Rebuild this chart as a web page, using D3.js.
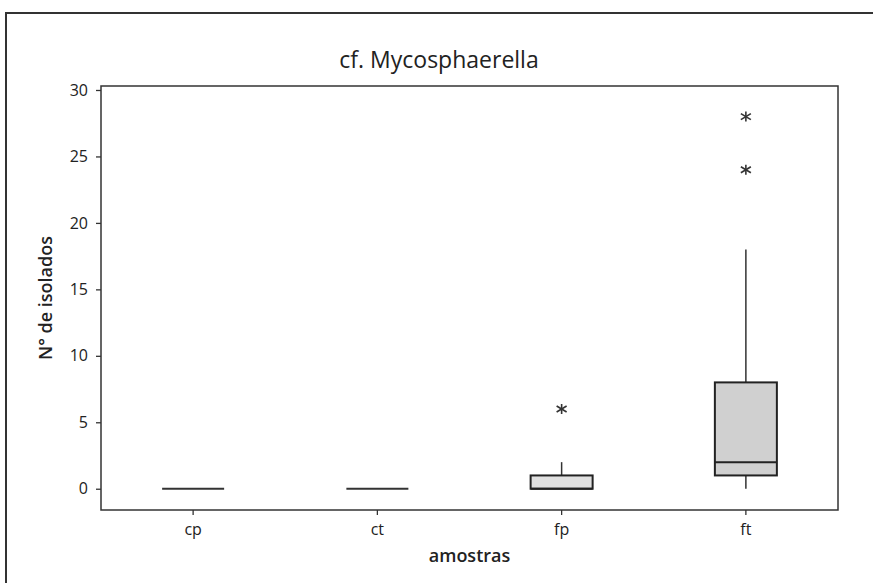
<!DOCTYPE html>
<html><head><meta charset="utf-8">
<script src="https://cdn.jsdelivr.net/npm/d3@7"></script>
<style>body{margin:0;background:#fff}svg{display:block}</style>
</head><body>
<svg id="c" width="873" height="583"></svg>
<script>
const categories = ["cp","ct","fp","ft"];
const q1 =        [0, 0, 0, 1];
const medians =   [0, 0, 0, 2];
const q3 =        [0, 0, 1, 8];
const whiskLow =  [0, 0, 0, 0];
const whiskHigh = [0, 0, 2, 18];
const outliers =  [[], [], [6], [24, 28]];
const boxFills =  ["#d4d4d4","#d4d4d4","#e0e0e0","#d0d0d0"];
const yTicks = [0,5,10,15,20,25,30];
const title = "cf. Mycosphaerella";
const xTitle = "amostras";
const yTitle = "N° de isolados";

const svg = d3.select("#c");
const L=101, R=838, T=86, B=510;
const font = "'Open Sans', 'DejaVu Sans', sans-serif";
const ink = "#222";

// outer frame
svg.append("path").attr("d","M6,590 L6,13 L880,13").attr("fill","none").attr("stroke","#333").attr("stroke-width",2);

const x = d3.scaleBand().domain(categories).range([L,R]).paddingInner(0).paddingOuter(0);
const y = d3.scaleLinear().domain([-1.6,30.3]).range([B,T]);

svg.append("rect").attr("x",L).attr("y",T).attr("width",R-L).attr("height",B-T)
  .attr("fill","none").attr("stroke","#333").attr("stroke-width",1.5);

const yAxis = svg.append("g").attr("transform",`translate(${L},0)`)
  .call(d3.axisLeft(y).tickValues(yTicks).tickSize(5).tickPadding(8));
const xAxis = svg.append("g").attr("transform",`translate(0,${B})`)
  .call(d3.axisBottom(x).tickSize(5).tickPadding(9));
[yAxis,xAxis].forEach(g=>{
  g.select(".domain").remove();
  g.selectAll("line").attr("stroke","#333").attr("stroke-width",1.3);
  g.selectAll("text").attr("font-family",font).attr("font-size",16).attr("fill",ink);
});

const bw = 62;
categories.forEach((c,i)=>{
  const cx = x(c)+x.bandwidth()/2;
  const g = svg.append("g");
  if (q3[i] > q1[i]) {
    g.append("line").attr("x1",cx).attr("x2",cx).attr("y1",y(q3[i])).attr("y2",y(whiskHigh[i])).attr("stroke","#333").attr("stroke-width",1.5);
    g.append("line").attr("x1",cx).attr("x2",cx).attr("y1",y(q1[i])).attr("y2",y(whiskLow[i])).attr("stroke","#333").attr("stroke-width",1.5);
    g.append("rect").attr("x",cx-bw/2).attr("y",y(q3[i])).attr("width",bw).attr("height",y(q1[i])-y(q3[i]))
      .attr("fill",boxFills[i]).attr("stroke","#222").attr("stroke-width",2);
    g.append("line").attr("x1",cx-bw/2).attr("x2",cx+bw/2).attr("y1",y(medians[i])).attr("y2",y(medians[i])).attr("stroke","#222").attr("stroke-width",2);
  } else {
    g.append("line").attr("x1",cx-bw/2).attr("x2",cx+bw/2).attr("y1",y(medians[i])).attr("y2",y(medians[i])).attr("stroke","#333").attr("stroke-width",2);
  }
  outliers[i].forEach(v=>{
    const oy=y(v), s=5;
    const p = g.append("g").attr("stroke","#333").attr("stroke-width",1.6);
    p.append("line").attr("x1",cx).attr("x2",cx).attr("y1",oy-s).attr("y2",oy+s);
    p.append("line").attr("x1",cx-s).attr("x2",cx+s).attr("y1",oy-s*0.6).attr("y2",oy+s*0.6);
    p.append("line").attr("x1",cx-s).attr("x2",cx+s).attr("y1",oy+s*0.6).attr("y2",oy-s*0.6);
  });
});

svg.append("text").attr("x",439).attr("y",68).attr("text-anchor","middle")
  .attr("font-family",font).attr("font-size",23).attr("fill",ink).text(title);
svg.append("text").attr("x",(L+R)/2).attr("y",562).attr("text-anchor","middle")
  .attr("font-family",font).attr("font-size",18).attr("font-weight",600).attr("fill",ink).text(xTitle);
svg.append("text").attr("transform",`translate(52,${(T+B)/2}) rotate(-90)`).attr("text-anchor","middle")
  .attr("font-family",font).attr("font-size",18).attr("font-weight",600).attr("fill",ink).text(yTitle);
</script>
</body></html>
